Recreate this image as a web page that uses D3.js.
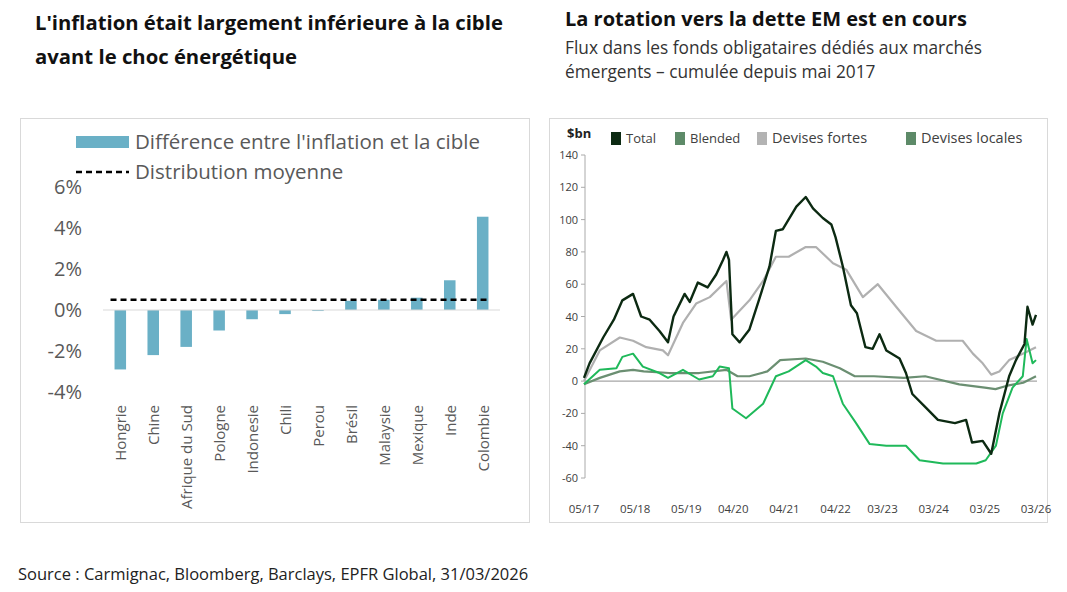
<!DOCTYPE html>
<html><head><meta charset="utf-8">
<script src="https://cdn.jsdelivr.net/npm/d3@7"></script>
<style>
body{margin:0;background:#fff;font-family:"Open Sans",sans-serif;}
</style></head>
<body><div id="chart"></div>
<script>
const width = 1067, height = 592;

// graphique de gauche
const pays = ["Hongrie","Chine","Afrique du Sud","Pologne","Indonesie","Chili","Perou","Brésil","Malaysie","Mexique","Inde","Colombie"];
const ecart = [-2.9,-2.2,-1.8,-1.0,-0.45,-0.2,-0.05,0.45,0.5,0.6,1.45,4.55];
const moyenne = 0.5;
const leftTicks = [6,4,2,0,-2,-4];

// graphique de droite : [mois depuis mai 2017, valeur]
const total = [[0,2],[1.3,11],[4.5,27],[7,38],[9,50],[11.5,54],[13.4,40],[15.4,38],[17.7,31],[19.7,24],[21,40],[23.6,54],[24.8,49],[26.7,61],[29,58],[31,66],[32.6,75],[33.4,80],[34,75],[34.8,29],[36.5,24],[38.8,32],[41,50],[43.5,71],[45,93],[46.6,94],[49.8,108],[52,114],[53.7,107],[56,101],[58,97],[59,89],[60.7,71],[62.6,47],[64,42],[66,21],[67.7,20],[69.3,29],[70.9,19],[74,14],[75.5,5],[77,-8],[80,-16],[83,-24],[87,-26],[89.6,-24],[91,-38],[93.5,-37],[95.5,-45],[97.4,-20],[99.7,3],[101.3,13],[103.3,23],[104,46],[105.2,35],[106,41]];
const fortes = [[0,0],[3.7,19],[8.4,27],[11.5,25],[14.6,21],[18.5,19],[19.7,16],[23.2,36],[26.3,48],[29.5,52],[33.4,62],[34.5,38],[38.8,50],[42,62],[45,77],[48,77],[52,83],[54.4,83],[58.4,73],[61.5,69],[65.4,52],[68.9,60],[73.2,46],[77.9,31],[82.6,25],[88.8,25],[91.2,17],[93.5,11],[95.5,4],[97.4,6],[99.7,13],[102.9,17],[106,21]];
const locales = [[0,-2],[3.7,7],[7.6,8],[9,15],[11.5,17],[13.8,9],[17.7,5],[19.7,2],[23.2,7],[27,1],[30.2,3],[31.8,9],[34,8],[34.8,-17],[38,-23],[42,-14],[45,3],[48,6],[52,13],[54.4,9],[56,5],[58.4,3],[60.7,-14],[63.8,-26],[67,-39],[70.9,-40],[75.5,-40],[78.7,-49],[84.2,-51],[92,-51],[94.2,-49],[96.6,-40],[98.2,-20],[100.5,-4],[102.9,3],[103.8,26],[105.2,11],[106,13]];
const blended = [[0,-2],[3.7,2],[8.4,6],[11.5,7],[14,6],[20,5],[27,5],[33.4,7],[36,3],[38.8,3],[43,6],[46,13],[52,14],[56,12],[60,8],[63.5,3],[68,3],[75,2],[80,3],[88,-2],[94,-4],[96.5,-5],[99,-3],[103,-1],[106,3]];
const tickMonths = [0,12,24,35,47,59,70,82,94,106];
const tickLabels = ["05/17","05/18","05/19","04/20","04/21","04/22","03/23","03/24","03/25","03/26"];
const rightTicks = [140,120,100,80,60,40,20,0,-20,-40,-60];

const svg = d3.select("#chart").append("svg")
    .attr("width", width).attr("height", height)
    .style("font-family", "'Open Sans', sans-serif");

// titres
svg.append("text").attr("x", 35).attr("y", 30).text("L'inflation était largement inférieure à la cible")
    .style("font-weight", "bold").style("font-size", "20.3px").style("fill", "#111");
svg.append("text").attr("x", 35).attr("y", 64).text("avant le choc énergétique")
    .style("font-weight", "bold").style("font-size", "20.3px").style("fill", "#111");
svg.append("text").attr("x", 565).attr("y", 26).text("La rotation vers la dette EM est en cours")
    .style("font-weight", "bold").style("font-size", "20px").style("fill", "#111");
svg.append("text").attr("x", 565).attr("y", 54).text("Flux dans les fonds obligataires dédiés aux marchés")
    .style("font-size", "17.3px").style("fill", "#333");
svg.append("text").attr("x", 565).attr("y", 78).text("émergents – cumulée depuis mai 2017")
    .style("font-size", "17.3px").style("fill", "#333");
svg.append("text").attr("x", 18).attr("y", 580).text("Source : Carmignac, Bloomberg, Barclays, EPFR Global, 31/03/2026")
    .style("font-size", "16.5px").style("fill", "#222");

// cadres
svg.append("rect").attr("x", 20.5).attr("y", 118.5).attr("width", 509).attr("height", 404)
    .attr("fill", "none").attr("stroke", "#d9d9d9");
svg.append("rect").attr("x", 549.5).attr("y", 118.5).attr("width", 498).attr("height", 404)
    .attr("fill", "none").attr("stroke", "#d9d9d9");

// ---- gauche
const barCol = "#6ab0c6";
const xL = d3.scaleBand().domain(pays).range([103, 500]).paddingInner(0.65).paddingOuter(0.35);
const yL = d3.scaleLinear().domain([-4, 6]).range([392, 187]);
const gL = svg.append("g");
gL.selectAll("rect.bar").data(ecart).join("rect")
    .attr("x", (d, i) => xL(pays[i]))
    .attr("width", xL.bandwidth())
    .attr("y", d => yL(Math.max(0, d)))
    .attr("height", d => Math.abs(yL(d) - yL(0)))
    .attr("fill", barCol);
gL.append("line").attr("x1", 103).attr("x2", 500).attr("y1", yL(0)).attr("y2", yL(0))
    .attr("stroke", "#d9d9d9").attr("stroke-width", 1);
gL.append("line").attr("x1", xL(pays[0]) - 4).attr("x2", xL(pays[11]) + xL.bandwidth())
    .attr("y1", yL(moyenne)).attr("y2", yL(moyenne))
    .attr("stroke", "#000").attr("stroke-width", 2.5).attr("stroke-dasharray", "6,4");
gL.selectAll("text.yt").data(leftTicks).join("text")
    .attr("x", 82).attr("y", d => yL(d) + 7).attr("text-anchor", "end")
    .style("font-size", "20px").style("fill", "#595959")
    .text(d => d + "%");
gL.selectAll("text.xt").data(pays).join("text")
    .attr("transform", d => `translate(${xL(d) + xL.bandwidth() / 2 + 6},405) rotate(-90)`)
    .attr("text-anchor", "end")
    .style("font-size", "15px").style("fill", "#595959")
    .text(d => d);
// légende gauche
gL.append("rect").attr("x", 76).attr("y", 136).attr("width", 53).attr("height", 12).attr("fill", barCol);
gL.append("text").attr("x", 135).attr("y", 149).text("Différence entre l'inflation et la cible")
    .style("font-size", "20.5px").style("fill", "#595959");
gL.append("line").attr("x1", 76).attr("x2", 129).attr("y1", 172).attr("y2", 172)
    .attr("stroke", "#000").attr("stroke-width", 2.5).attr("stroke-dasharray", "6,4");
gL.append("text").attr("x", 135).attr("y", 179).text("Distribution moyenne")
    .style("font-size", "20.5px").style("fill", "#595959");

// ---- droite
const xR = d3.scaleLinear().domain([0, 106]).range([584, 1036]);
const yR = d3.scaleLinear().domain([-60, 140]).range([478, 155]);
const gR = svg.append("g");
gR.append("line").attr("x1", 585).attr("x2", 585).attr("y1", yR(140)).attr("y2", yR(-60)).attr("stroke", "#aaa");
gR.selectAll("line.tk").data(rightTicks).join("line")
    .attr("x1", 581).attr("x2", 585).attr("y1", d => yR(d)).attr("y2", d => yR(d)).attr("stroke", "#aaa");
gR.selectAll("text.yt").data(rightTicks).join("text")
    .attr("x", 578).attr("y", d => yR(d) + 4).attr("text-anchor", "end")
    .style("font-size", "11px").style("fill", "#404040").text(d => d);
gR.selectAll("text.xt").data(tickMonths).join("text")
    .attr("x", d => xR(d)).attr("y", 513).attr("text-anchor", "middle")
    .style("font-size", "11.5px").style("fill", "#404040").text((d, i) => tickLabels[i]);
gR.append("line").attr("x1", 585).attr("x2", 1037).attr("y1", yR(0)).attr("y2", yR(0))
    .attr("stroke", "#a6a6a6").attr("stroke-width", 1.2);

const line = d3.line().x(d => xR(d[0])).y(d => yR(d[1]));
const series = [
    {data: fortes, color: "#b0b0b0", w: 2.2},
    {data: blended, color: "#6b8f72", w: 2.2},
    {data: locales, color: "#1fb95a", w: 2},
    {data: total, color: "#0c2a12", w: 2.4}
];
gR.selectAll("path.s").data(series).join("path")
    .attr("d", d => line(d.data)).attr("fill", "none")
    .attr("stroke", d => d.color).attr("stroke-width", d => d.w)
    .attr("stroke-linejoin", "round");

// légende droite
gR.append("text").attr("x", 567).attr("y", 138).text("$bn")
    .style("font-weight", "bold").style("font-size", "13px").style("fill", "#222");
const leg = [
    {label: "Total", color: "#0c2a12", x: 611},
    {label: "Blended", color: "#5d8a68", x: 675},
    {label: "Devises fortes", color: "#b3b3b3", x: 757},
    {label: "Devises locales", color: "#5d8a68", x: 906}
];
const lg = gR.selectAll("g.leg").data(leg).join("g").attr("transform", d => `translate(${d.x},132)`);
lg.append("rect").attr("width", 10).attr("height", 13).attr("fill", d => d.color);
lg.append("text").attr("x", 15).attr("y", 11).text(d => d.label)
    .style("font-size", d => d.label.startsWith("Devises") ? "14.5px" : "13px").style("fill", "#404040");
</script>
</body></html>
